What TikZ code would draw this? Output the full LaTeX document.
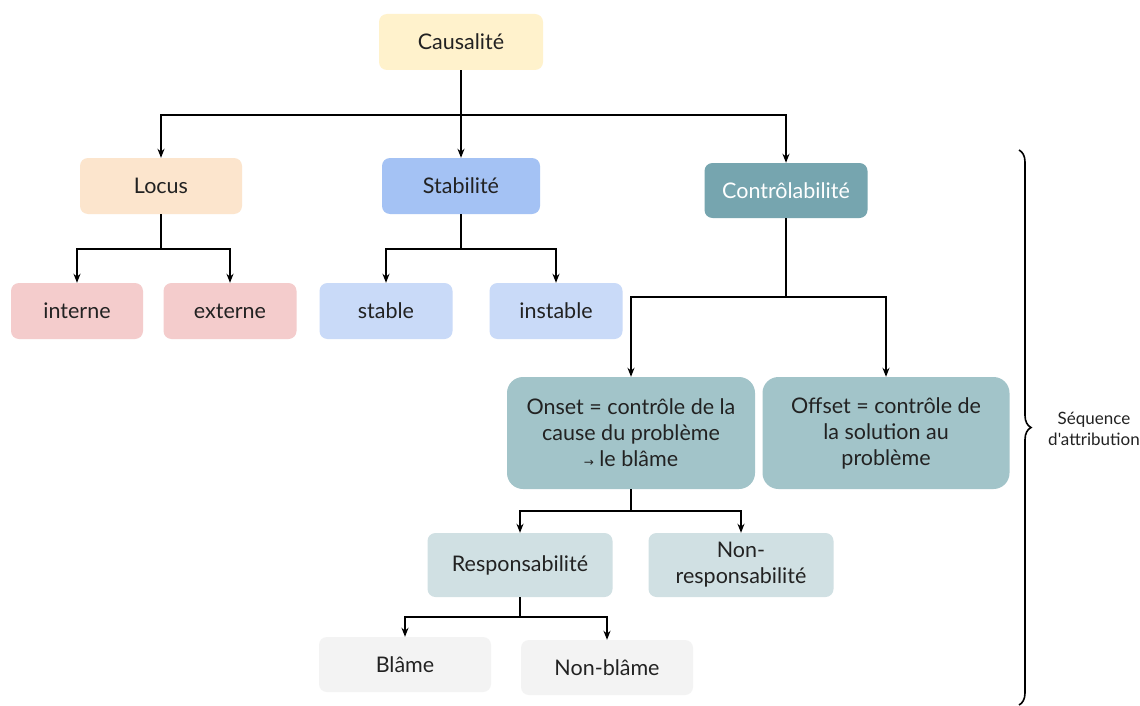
\documentclass[tikz,border=0pt]{standalone}
\usepackage{fontspec}
\setmainfont{Lato}
\newfontfamily\plainlato{Lato}[Ligatures=TeXOff]
\usetikzlibrary{arrows.meta,decorations.pathreplacing}
\definecolor{cyel}{HTML}{FFF2CC}
\definecolor{corg}{HTML}{FCE5CD}
\definecolor{cblu}{HTML}{A4C2F4}
\definecolor{cteal}{HTML}{76A5AF}
\definecolor{cred}{HTML}{F4CCCC}
\definecolor{clblu}{HTML}{C9DAF8}
\definecolor{cmteal}{HTML}{A2C4C9}
\definecolor{clteal}{HTML}{D0E0E3}
\definecolor{cgrey}{HTML}{F3F3F3}
\definecolor{ctext}{HTML}{222222}
\begin{document}
\begin{tikzpicture}[x=1pt,y=-1pt,
  box/.style={rounded corners=8pt, draw=none, text=ctext, font=\fontsize{21.5}{26}\selectfont, align=center, inner sep=0pt},
  conn/.style={line width=1.9pt, draw=black},
  arr/.style={conn, -{Stealth[length=9pt,width=7pt]}}]
\useasboundingbox (0,0) rectangle (1140,706);
\fill[white] (0,0) rectangle (1140,706);
% nodes
\node[box, fill=cyel, minimum width=164pt, minimum height=56pt] (caus) at (461,42) {Causalité};
\node[box, fill=corg, minimum width=162pt, minimum height=56pt] (locus) at (161,186) {Locus};
\node[box, fill=cblu, minimum width=158pt, minimum height=56pt] (stab) at (461,186) {Stabilité};
\node[box, fill=cteal, text=white, minimum width=163pt, minimum height=55pt] (ctrl) at (786,190.5) {Contrôlabilité};
\node[box, fill=cred, minimum width=132pt, minimum height=56pt] (int) at (77,311) {interne};
\node[box, fill=cred, minimum width=133pt, minimum height=56pt] (ext) at (230,311) {externe};
\node[box, fill=clblu, minimum width=133pt, minimum height=56pt] (stable) at (386,311) {stable};
\node[box, fill=clblu, minimum width=133pt, minimum height=56pt] (instable) at (556,311) {instable};
\node[box, fill=cmteal, rounded corners=16pt, minimum width=248pt, minimum height=112pt] (onset) at (631,433) {Onset = contrôle de la\\cause du problème\\{\fontspec{DejaVu Sans}\fontsize{12}{26}\selectfont →} le blâme};
\node[box, fill=cmteal, rounded corners=16pt, minimum width=247pt, minimum height=112pt] (offset) at (886,433) {Offset = contrôle de\\la solution au\\problème};
\node[box, fill=clteal, minimum width=185pt, minimum height=64pt] (resp) at (520,565) {Responsabilité};
\node[box, fill=clteal, minimum width=185pt, minimum height=64pt] (nresp) at (741,565) {Non-\\responsabilité};
\node[box, fill=cgrey, minimum width=172pt, minimum height=55pt] (blame) at (405,664.5) {Blâme};
\node[box, fill=cgrey, minimum width=172pt, minimum height=55pt] (nblame) at (607,667.5) {Non-blâme};
% connectors
\coordinate (j1) at (461,115);
\draw[conn] (caus.south) -- (j1);
\draw[arr] (j1) -| (locus.north);
\draw[arr] (j1) -- (stab.north);
\draw[arr] (j1) -| (ctrl.north);
\coordinate (j2) at (161,249);
\draw[conn] (locus.south) -- (j2);
\draw[arr] (j2) -| (int.north);
\draw[arr] (j2) -| (ext.north);
\coordinate (j3) at (461,249);
\draw[conn] (stab.south) -- (j3);
\draw[arr] (j3) -| (stable.north);
\draw[arr] (j3) -| (instable.north);
\coordinate (j4) at (786,297);
\draw[conn] (ctrl.south) -- (j4);
\draw[arr] (j4) -| (onset.north);
\draw[arr] (j4) -| (offset.north);
\coordinate (j5) at (631,511);
\draw[conn] (onset.south) -- (j5);
\draw[arr] (j5) -| (resp.north);
\draw[arr] (j5) -| (nresp.north);
\coordinate (j6) at (520,617);
\draw[conn] (resp.south) -- (j6);
\draw[arr] (j6) -| (blame.north);
\draw[arr] (j6) -| (nblame.north);
% brace
\coordinate (bt) at (1019,150);
\coordinate (bb) at (1019,705);
\draw[line width=1.6pt, decorate, decoration={brace, amplitude=12pt}] (bt) -- (bb);
\node[font=\plainlato\fontsize{17}{21}\selectfont, text=ctext, align=center] (seq) at (1094,429) {Séquence\\d'attribution};
\end{tikzpicture}
\end{document}
